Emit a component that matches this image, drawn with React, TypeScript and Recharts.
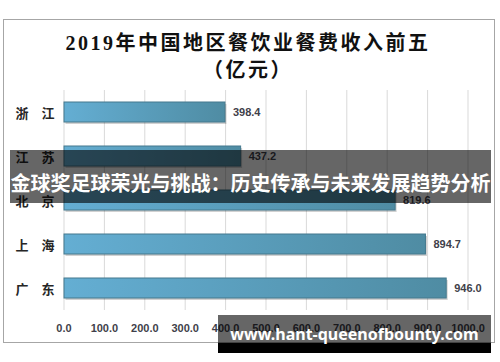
import React from "react";
import { BarChart, Bar, XAxis, YAxis, CartesianGrid, LabelList } from "recharts";

const titleLine1 = "2019年中国地区餐饮业餐费收入前五";
const titleLine2 = "（亿元）";
const categories = ["浙江", "江苏", "北京", "上海", "广东"];
const revenue = [398.4, 437.2, 819.6, 894.7, 946.0];
const xTicks = [0, 100, 200, 300, 400, 500, 600, 700, 800, 900, 1000];
const bannerText = "金球奖足球荣光与挑战：历史传承与未来发展趋势分析";
const siteText = "www.hant-queenofbounty.com";

const data = categories.map((name, i) => ({ name, value: revenue[i] }));

const CatTick = (props: any) => {
  const { y, payload } = props;
  const label = String(payload.value).split("").join("\u3000");
  return (
    <text
      x={35}
      y={y}
      textAnchor="middle"
      dominantBaseline="central"
      fontFamily="'Noto Sans CJK SC', sans-serif"
      fontWeight={700}
      fontSize={13}
      fill="#262626"
    >
      {label}
    </text>
  );
};

const NumTick = (props: any) => {
  const { x, y, payload } = props;
  return (
    <text
      x={x}
      y={y + 20}
      textAnchor="middle"
      fontFamily="'Liberation Sans', Arial, sans-serif"
      fontWeight={700}
      fontSize={11}
      fill="#3f3f4a"
    >
      {Number(payload.value).toFixed(1)}
    </text>
  );
};

const BarShape = (props: any) => {
  const { x, y, width, height } = props;
  return (
    <g>
      <rect x={x + 1.5} y={y + 2} width={width} height={height} fill="#000" opacity={0.18} />
      <rect x={x} y={y} width={width} height={height} fill="url(#barGrad)" stroke="#44798d" strokeWidth={1} />
    </g>
  );
};

export default function App() {
  return (
    <div style={{ position: "fixed", left: 0, top: 0, width: 500, height: 362, background: "#fff", overflow: "hidden" }}>
      <div
        style={{
          position: "absolute",
          left: 3,
          top: 19,
          width: 490,
          height: 322,
          border: "1px solid #a6a6a6",
        }}
      />
      <div
        style={{
          position: "absolute",
          left: 0,
          width: 496,
          top: 30,
          textAlign: "center",
          fontFamily: "'Liberation Serif', 'Noto Sans CJK SC', serif",
          fontWeight: 700,
          fontSize: 20,
          letterSpacing: 2.5,
          lineHeight: "27px",
          color: "#111",
        }}
      >
        <div>{titleLine1}</div>
        <div>{titleLine2}</div>
      </div>
      <div style={{ position: "absolute", left: 0, top: 0 }}>
        <BarChart
          width={500}
          height={362}
          data={data}
          layout="vertical"
          margin={{ top: 90, right: 32, bottom: 22, left: 0 }}
          barSize={20}
        >
          <defs>
            <linearGradient id="barGrad" x1="0" y1="0" x2="1" y2="0">
              <stop offset="0%" stopColor="#64aed3" />
              <stop offset="100%" stopColor="#4f8ca3" />
            </linearGradient>
          </defs>
          <CartesianGrid horizontal={false} stroke="#d9d9d9" />
          <XAxis
            type="number"
            domain={[0, 1000]}
            ticks={xTicks}
            axisLine={false}
            tickLine={false}
            tickSize={0}
            height={30}
            tick={<NumTick />}
            interval={0}
          />
          <YAxis
            type="category"
            dataKey="name"
            width={64}
            axisLine={false}
            tickLine={false}
            tick={<CatTick />}
            interval={0}
          />
          <Bar dataKey="value" isAnimationActive={false} shape={<BarShape />}>
            <LabelList
              dataKey="value"
              position="right"
              offset={8}
              formatter={(v: any) => Number(v).toFixed(1)}
              style={{ fontFamily: "'Liberation Sans', Arial, sans-serif", fontSize: 11, fontWeight: 700, fill: "#3f3f4a" }}
            />
          </Bar>
        </BarChart>
      </div>
      <div
        style={{
          position: "absolute",
          left: 10,
          top: 150,
          width: 481,
          height: 53,
          background: "rgba(0,0,0,0.6)",
        }}
      />
      <div
        style={{
          position: "absolute",
          left: 10,
          top: 168,
          width: 481,
          textAlign: "center",
          color: "#fff",
          fontFamily: "'Noto Sans CJK SC', sans-serif",
          fontWeight: 700,
          fontSize: 20,
          lineHeight: "30px",
          whiteSpace: "nowrap",
        }}
      >
        {bannerText}
      </div>
      <div
        style={{
          position: "absolute",
          left: 218,
          top: 315,
          width: 273,
          height: 28,
          background: "rgba(0,0,0,0.6)",
        }}
      />
      <div
        style={{
          position: "absolute",
          left: 218,
          top: 343,
          width: 273,
          height: 10,
          background: "#000",
        }}
      />
      <div
        style={{
          position: "absolute",
          left: 218,
          top: 323,
          width: 273,
          textAlign: "center",
          color: "#fff",
          fontFamily: "'Noto Sans', 'Open Sans', sans-serif",
          fontWeight: 700,
          fontSize: 16,
          lineHeight: "22px",
          whiteSpace: "nowrap",
        }}
      >
        {siteText}
      </div>
    </div>
  );
}
